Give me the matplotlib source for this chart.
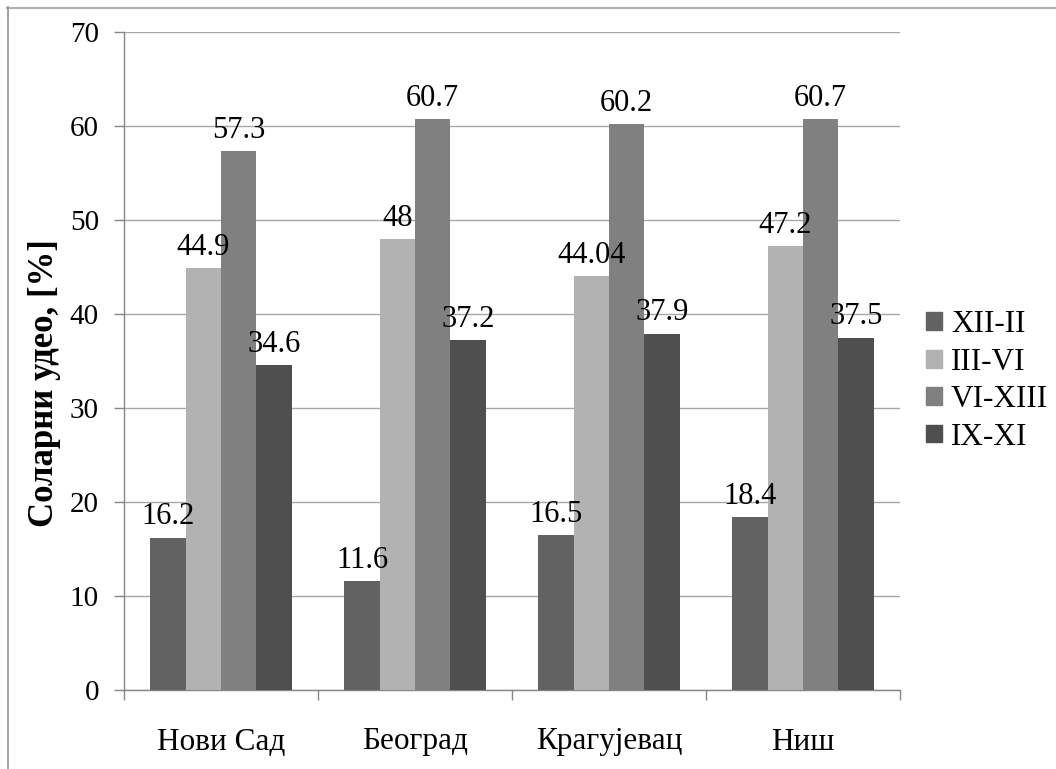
import matplotlib
matplotlib.use("Agg")
import matplotlib.pyplot as plt
from matplotlib.lines import Line2D
import numpy as np

cities = ["Нови Сад", "Београд", "Крагујевац", "Ниш"]
periods = ["XII-II", "III-VI", "VI-XIII", "IX-XI"]
xii_ii = [16.2, 11.6, 16.5, 18.4]
iii_vi = [44.9, 48, 44.04, 47.2]
vi_xiii = [57.3, 60.7, 60.2, 60.7]
ix_xi = [34.6, 37.2, 37.9, 37.5]
value_labels = [
    ["16.2", "11.6", "16.5", "18.4"],
    ["44.9", "48", "44.04", "47.2"],
    ["57.3", "60.7", "60.2", "60.7"],
    ["34.6", "37.2", "37.9", "37.5"],
]
colors = ["#626262", "#b2b2b2", "#808080", "#4f4f4f"]

plt.rcParams["font.family"] = ["Liberation Serif", "DejaVu Serif"]

fig = plt.figure(figsize=(10.56, 7.69), dpi=100)
ax = fig.add_axes([124 / 1056, 1 - 690 / 769, (900 - 124) / 1056, (690 - 32) / 769])

series = [xii_ii, iii_vi, vi_xiii, ix_xi]
x = np.arange(len(cities))
w = 1 / 5.5
for i, (vals, col, lab) in enumerate(zip(series, colors, periods)):
    pos = x + (i - 1.5) * w
    bars = ax.bar(pos, vals, width=w, color=col, label=lab, zorder=3)
    for b, v, t in zip(bars, vals, value_labels[i]):
        ax.annotate(t, (b.get_x() + b.get_width() / 2, v), xytext=(0, 4.5),
                    textcoords="offset points", ha="center", va="bottom",
                    fontsize=22, zorder=4)

ax.set_xlim(-0.5, 3.5)
ax.set_ylim(0, 70)
ax.set_yticks(range(0, 71, 10))
ax.yaxis.grid(True, color="#a8a8a8", linewidth=1.0, zorder=0)
ax.set_axisbelow(True)

ax.set_xticks(x)
ax.set_xticklabels(cities, fontsize=22.5)
ax.set_xticks(np.arange(-0.5, 4.0, 1.0), minor=True)
ax.tick_params(axis="x", which="major", length=0, pad=27)
ax.tick_params(axis="x", which="minor", length=7, width=1, color="#868686", direction="out")
ax.tick_params(axis="y", length=7, width=1, color="#868686", labelsize=21, pad=11)

for s in ["top", "right"]:
    ax.spines[s].set_visible(False)
for s in ["left", "bottom"]:
    ax.spines[s].set_color("#868686")
    ax.spines[s].set_linewidth(1)

fig.text(45 / 1056, 1 - 383 / 769, "Соларни удео, [%]", rotation=90,
         ha="center", va="center", fontsize=25, fontweight="bold")

handles = [plt.Rectangle((0, 0), 1, 1, color=c) for c in colors]
fig.legend(handles, periods, loc="center left", bbox_to_anchor=(926 / 1056, 1 - 381 / 769),
           frameon=False, fontsize=22.5, handlelength=0.5, handleheight=0.5,
           handletextpad=0.3, labelspacing=0.27, borderaxespad=0, borderpad=0)

# outer chart frame (top and left edges)
fig.add_artist(Line2D([7 / 1056, 1.0], [1 - 7.5 / 769, 1 - 7.5 / 769],
                      transform=fig.transFigure, color="#b0b0b0", linewidth=1.5))
fig.add_artist(Line2D([7.5 / 1056, 7.5 / 1056], [0.0, 1 - 7 / 769],
                      transform=fig.transFigure, color="#909090", linewidth=1.2))

fig.savefig("out.png", dpi=100, facecolor="white")
